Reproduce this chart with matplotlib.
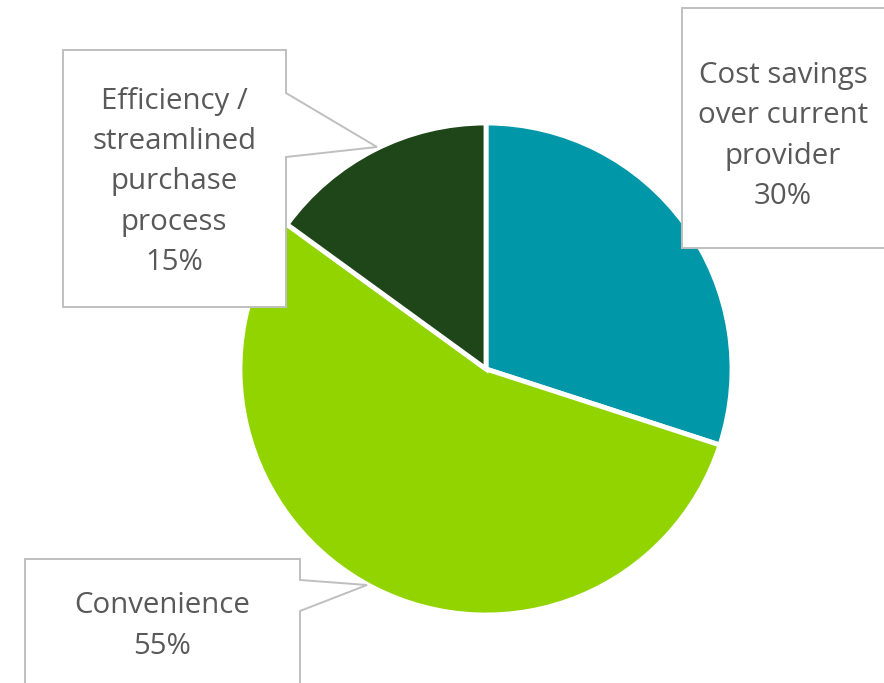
import matplotlib.pyplot as plt
from matplotlib.patches import Polygon

labels = ['Cost savings\nover current\nprovider', 'Convenience', 'Efficiency /\nstreamlined\npurchase\nprocess']
shares = [30, 55, 15]
colors = ['#0097A9', '#92D400', '#1E4619']

W, H = 884, 683
plt.rcParams['font.family'] = ['Open Sans', 'DejaVu Sans']

fig = plt.figure(figsize=(W / 100, H / 100), dpi=100)
ax = fig.add_axes([0, 0, 1, 1])

# pie centre and radius in pixel units (y measured from bottom)
cx, cy, r = 486, H - 369, 246
ax.pie(shares, colors=colors, startangle=90, counterclock=False,
       center=(cx, cy), radius=r,
       wedgeprops=dict(edgecolor='white', linewidth=3.5))


def callout(pts, text, tx, ty):
    # pts given top-down in pixels, flip to data coords
    poly = Polygon([(x, H - y) for x, y in pts], closed=True,
                   facecolor='white', edgecolor='#BFBFBF', linewidth=1.4,
                   zorder=5, clip_on=True)
    ax.add_patch(poly)
    ax.text(tx, H - ty, text, ha='center', va='center', fontsize=21.2,
            color='#595959', linespacing=1.51, zorder=6)


# cost savings box (runs off the right edge)
callout([(682, 8), (890, 8), (890, 248), (682, 248)],
        f'{labels[0]}\n{shares[0]}%', 783, 136)

# efficiency box with pointer towards the dark slice
callout([(63, 50), (286, 50), (286, 93), (377, 147), (286, 157),
         (286, 307), (63, 307)],
        f'{labels[2]}\n{shares[2]}%', 174, 182)

# convenience box (runs off the bottom)
callout([(25, 559), (300, 559), (300, 580), (367, 585), (300, 611),
         (300, 690), (25, 690)],
        f'{labels[1]}\n{shares[1]}%', 162, 626)

ax.set_xlim(0, W)
ax.set_ylim(0, H)
ax.set_aspect('auto')
ax.axis('off')

fig.savefig('out.png', dpi=100, facecolor='white')
